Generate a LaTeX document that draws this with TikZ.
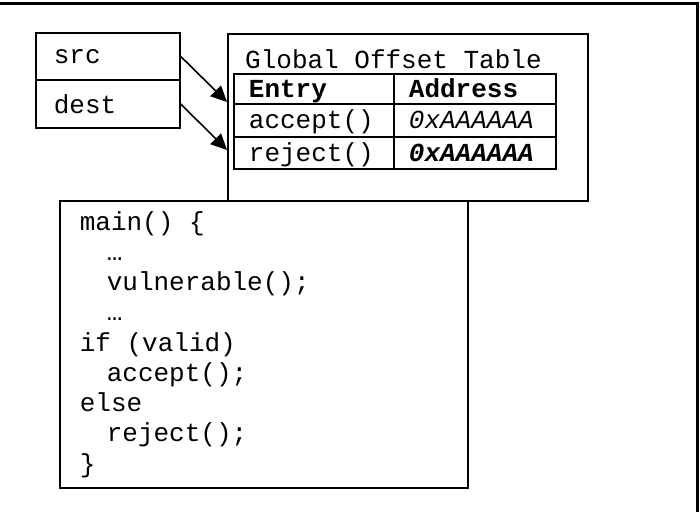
\documentclass[tikz,border=0pt]{standalone}
\usepackage{fontspec}
\setmonofont{Liberation Mono}
\usetikzlibrary{arrows.meta}
\begin{document}
\begin{tikzpicture}[x=1pt, y=-1pt, font=\ttfamily\fontsize{26}{30.25}\selectfont,
  box/.style={draw, line width=1.6pt, inner sep=0pt, anchor=north west},
  field/.style={box, minimum width=144pt, text width=108pt, inner xsep=18pt, align=left},
  cell/.style={box, line width=1.8pt, text width=#1, text height=20pt, text depth=3pt, inner xsep=15pt, align=left},
  ptr/.style={-{Triangle[length=16pt, width=15pt]}, line width=1.6pt}]
  \useasboundingbox (0,0) rectangle (700,512);
  \draw[line width=2.6pt] (0,3.5) -- (697.5,3.5) -- (697.5,512);
  \node[field, minimum height=47pt] (src) at (35,32) {src};
  \node[field, minimum height=48pt] (dest) at (35,79) {dest};
  \node[box, minimum width=360pt, minimum height=167pt] (got) at (227,33) {};
  \node[anchor=west, inner sep=0pt] (title) at (245,59) {Global Offset Table};
  \node[cell=130pt, minimum height=30pt] (entry) at (233,73) {\bfseries Entry};
  \node[cell=132pt, minimum height=30pt] (addr) at (393,73) {\bfseries Address};
  \node[cell=130pt, minimum height=33pt] (acc) at (233,103) {accept()};
  \node[cell=132pt, minimum height=33pt] (accaddr) at (393,103) {\itshape 0xAAAAAA};
  \node[cell=130pt, minimum height=32pt] (rej) at (233,136) {reject()};
  \node[cell=132pt, minimum height=32pt] (rejaddr) at (393,136) {\bfseries\itshape 0xAAAAAA};
  \node[box, minimum width=408pt, minimum height=287pt, text width=368pt, inner xsep=20pt, align=left] (code) at (59,200)
    {\spaceskip=0pt\xspaceskip=0pt\relax
     main() \{\\
     \hspace*{27pt}…\\
     \hspace*{27pt}vulnerable();\\
     \hspace*{27pt}…\\
     if (valid)\\
     \hspace*{27pt}accept();\\
     else\\
     \hspace*{27pt}reject();\\
     \}};
  \coordinate (tip1) at (227,102);
  \coordinate (tip2) at (227,150);
  \draw[ptr] (src.east) -- (tip1);
  \draw[ptr] (dest.east) -- (tip2);
\end{tikzpicture}
\end{document}
